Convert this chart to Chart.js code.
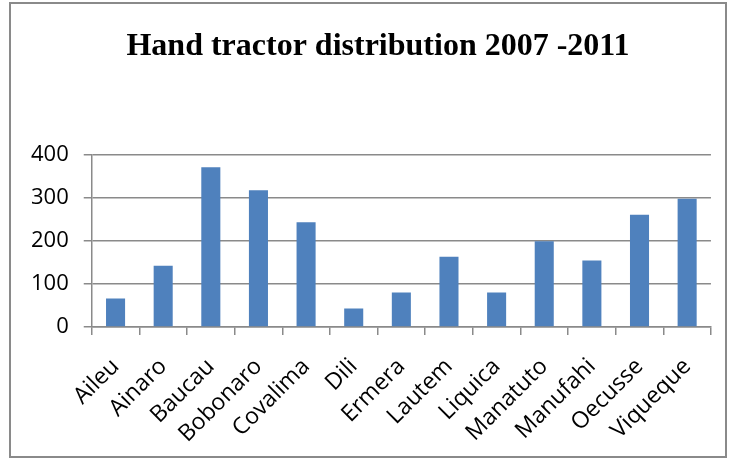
<!DOCTYPE html>
<html>
<head>
<meta charset="utf-8">
<script src="https://cdn.jsdelivr.net/npm/chart.js@4.4.1/dist/chart.umd.min.js"></script>
<style>
  body { margin: 0; background: #fff; }
  #box {
    position: absolute; left: 9px; top: 2px;
    width: 714px; height: 452px;
    border: 2px solid #8a8a8a;
  }
</style>
</head>
<body>
<div id="box"><canvas id="chart" width="714" height="452"></canvas></div>
<script>
const districts = ['Aileu', 'Ainaro', 'Baucau', 'Bobonaro', 'Covalima', 'Dili', 'Ermera',
  'Lautem', 'Liquica', 'Manatuto', 'Manufahi', 'Oecusse', 'Viqueque'];
const tractors = [66, 142, 370, 317, 243, 43, 80, 163, 80, 199, 154, 260, 297];
const yTicks = [0, 100, 200, 300, 400];

const ctx = document.querySelector('#chart');
const fontFam = "'Open Sans', 'DejaVu Sans', sans-serif";

// the title sits a bit right of the canvas centre in the original
const nudgeTitle = {
  id: 'nudgeTitle',
  afterLayout(chart) {
    const t = chart.titleBlock;
    if (t) { t.left += 12; t.right += 12; }
  }
};

new Chart(ctx, {
  type: 'bar',
  data: {
    labels: districts,
    datasets: [{
      label: 'Hand tractors',
      data: tractors,
      backgroundColor: '#4f81bd',
      categoryPercentage: 1,
      barPercentage: 0.4
    }]
  },
  options: {
    responsive: false,
    animation: false,
    layout: { padding: { left: 5, right: 9, top: 0, bottom: -10 } },
    plugins: {
      legend: { display: false },
      tooltip: { enabled: false },
      title: {
        display: true,
        text: 'Hand tractor distribution 2007 -2011',
        color: '#000',
        font: { family: "'Liberation Serif', 'Times New Roman', serif", size: 32, weight: 'bold' },
        padding: { top: 24, bottom: 88 }
      }
    },
    scales: {
      x: {
        grid: { offset: true, drawOnChartArea: false, color: '#8a8a8a', lineWidth: 1.5, tickLength: 8 },
        border: { color: '#8a8a8a', width: 1.5 },
        ticks: { color: '#000', font: { family: fontFam, size: 23 }, maxRotation: 45, minRotation: 45, padding: 18 }
      },
      y: {
        min: 0,
        max: 400,
        afterBuildTicks: (axis) => { axis.ticks = yTicks.map(v => ({ value: v })); },
        grid: { color: '#8a8a8a', lineWidth: 1.5, tickLength: 8 },
        border: { color: '#8a8a8a', width: 1.5 },
        ticks: { color: '#000', font: { family: fontFam, size: 22 }, padding: 15 }
      }
    }
  },
  plugins: [nudgeTitle]
});
</script>
</body>
</html>
